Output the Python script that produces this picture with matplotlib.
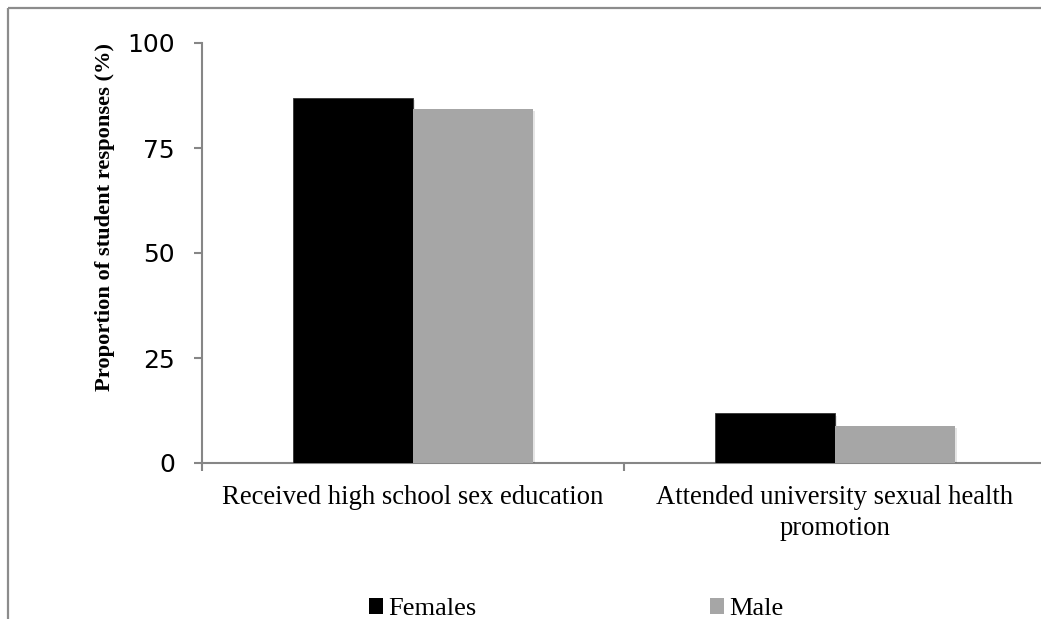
import matplotlib
matplotlib.use("Agg")
import matplotlib.pyplot as plt
import matplotlib.patheffects as pe
from matplotlib.lines import Line2D
from matplotlib.patches import Patch
import numpy as np

categories = ["Received high school sex education",
              "Attended university sexual health\npromotion"]
series_names = ["Females", "Male"]
females = [87.0, 11.8]
males = [84.2, 8.9]
yticks = [0, 25, 50, 75, 100]
colors = ["black", "#a6a6a6"]

W, H = 1041, 619
fig = plt.figure(figsize=(W / 100, H / 100), dpi=100)
fig.patch.set_facecolor("white")

# outer chart frame (left and top edges)
frame_col = "#8c8c8c"
fig.add_artist(Line2D([7.5 / W, 7.5 / W], [0, 1 - 7.5 / H], transform=fig.transFigure,
                      color=frame_col, lw=1.6, solid_capstyle="butt"))
fig.add_artist(Line2D([7.5 / W, 1], [1 - 7.5 / H, 1 - 7.5 / H], transform=fig.transFigure,
                      color=frame_col, lw=1.6, solid_capstyle="butt"))

ax = fig.add_axes([202 / W, (H - 463) / H, (1046 - 202) / W, (463 - 43) / H])
ax.set_facecolor("none")

x = np.arange(len(categories))
bw = 0.284
shadow = [pe.SimplePatchShadow(offset=(1.5, -1.5), alpha=0.1, shadow_rgbFace="black"), pe.Normal()]
b1 = ax.bar(x - bw / 2, females, bw, color=colors[0], edgecolor="#333333", linewidth=0.6,
            zorder=3)
b2 = ax.bar(x + bw / 2, males, bw, color=colors[1], linewidth=0, zorder=3)
for b in list(b1) + list(b2):
    b.set_path_effects(shadow)

ax.set_xlim(-0.5, 1.5)
ax.set_ylim(0, 100)

axis_col = "#868686"
for s in ["top", "right"]:
    ax.spines[s].set_visible(False)
for s in ["left", "bottom"]:
    ax.spines[s].set_color(axis_col)
    ax.spines[s].set_linewidth(1.5)

ax.set_yticks(yticks)
ax.set_yticklabels([str(v) for v in yticks], fontfamily="DejaVu Sans", fontsize=18)
ax.tick_params(axis="y", direction="out", length=5.5, width=1.5, color=axis_col, pad=14)

ax.set_xticks(x)
ax.set_xticklabels(categories, fontfamily="Liberation Serif", fontsize=19.2, linespacing=1.3)
ax.tick_params(axis="x", which="major", length=0, pad=16)
ax.set_xticks([-0.5, 0.5, 1.5], minor=True)
ax.tick_params(axis="x", which="minor", direction="out", length=5.5, width=1.5, color=axis_col)

fig.text(105 / W, 1 - 216.5 / H, "Proportion of student responses (%)", rotation=90,
         ha="center", va="center", fontfamily="Liberation Serif", fontweight="bold",
         fontsize=16.2)

handles = [Patch(facecolor=c, edgecolor="none") for c in colors]
leg = fig.legend(handles=handles, labels=series_names, ncol=2, frameon=False,
                 loc="lower left", bbox_to_anchor=(366 / W, -4 / H),
                 prop={"family": "Liberation Serif", "size": 19},
                 handlelength=0.55, handleheight=0.55, handletextpad=0.2,
                 columnspacing=8.83, borderpad=0.1, borderaxespad=0)

fig.savefig("out.png", dpi=100, facecolor="white")
